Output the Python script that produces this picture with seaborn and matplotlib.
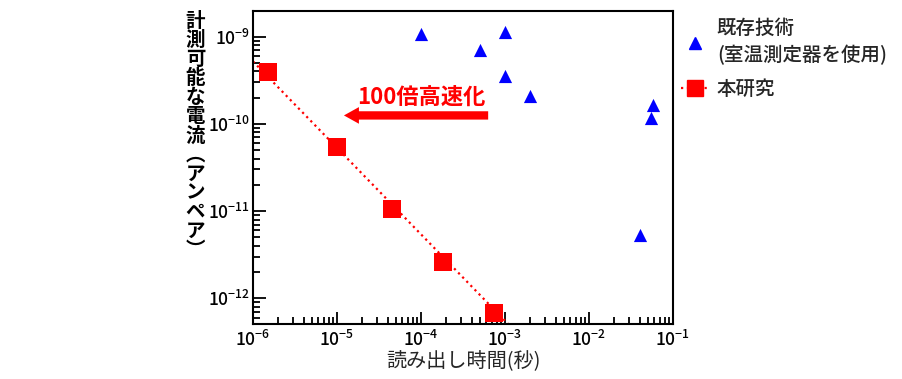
import numpy as np
import pandas as pd
import matplotlib
matplotlib.use("Agg")
import matplotlib.pyplot as plt
from matplotlib.lines import Line2D
from matplotlib.ticker import FixedLocator, LogLocator, NullFormatter
import seaborn as sns

# existing techniques (room-temperature instruments)
prior_time = [1.0e-4, 5.0e-4, 1.0e-3, 1.0e-3, 2.0e-3, 5.8e-2, 5.4e-2, 4.0e-2]
prior_current = [1.07e-9, 7.0e-10, 1.14e-9, 3.54e-10, 2.1e-10, 1.65e-10, 1.16e-10, 5.3e-12]

# this work
work_time = [1.51e-6, 1.01e-5, 4.5e-5, 1.81e-4, 7.3e-4]
work_current = [3.9e-10, 5.5e-11, 1.06e-11, 2.63e-12, 6.7e-13]

# dotted trend line
trend_time = [1.0e-6, 1.09e-3]
trend_current = [5.2e-10, 5.07e-13]

x_major = [1e-6, 1e-5, 1e-4, 1e-3, 1e-2, 1e-1]
y_major = [1e-12, 1e-11, 1e-10, 1e-9]

sns.set_theme(style="ticks")
plt.rcParams['font.family'] = ['Noto Sans CJK JP', 'DejaVu Sans']
plt.rcParams['font.weight'] = 'medium'
plt.rcParams['axes.unicode_minus'] = True

fig = plt.figure(figsize=(9.03, 3.79), dpi=100)
ax = fig.add_axes([0.2802, 0.1451, 0.4651, 0.8259])

red = '#ff0000'
blue = '#0000ff'

sns.lineplot(x=trend_time, y=trend_current, ax=ax, color=red, linestyle=':',
             linewidth=1.6, legend=False)
sns.scatterplot(x=work_time, y=work_current, ax=ax, marker='s', s=150,
                color=red, edgecolor=red, linewidth=0, zorder=3)
sns.scatterplot(x=prior_time, y=prior_current, ax=ax, marker='^', s=90,
                color=blue, edgecolor=blue, linewidth=0, zorder=3)

ax.set_xscale('log')
ax.set_yscale('log')
ax.set_xlim(1e-6, 1e-1)
ax.set_ylim(5.07e-13, 1.97e-9)

ax.xaxis.set_major_locator(FixedLocator(x_major))
ax.yaxis.set_major_locator(FixedLocator(y_major))
ax.xaxis.set_minor_locator(LogLocator(base=10, subs=np.arange(2, 10), numticks=20))
ax.yaxis.set_minor_locator(LogLocator(base=10, subs=np.arange(2, 10), numticks=20))
ax.xaxis.set_minor_formatter(NullFormatter())
ax.yaxis.set_minor_formatter(NullFormatter())

ax.tick_params(which='both', direction='in', top=False, right=False,
               colors='black', width=1.3)
ax.tick_params(which='major', length=9, labelsize=12.5)
ax.tick_params(axis='y', which='major', pad=2)
ax.tick_params(axis='x', which='major', pad=4)
ax.tick_params(which='minor', length=5)
for sp in ax.spines.values():
    sp.set_visible(True)
    sp.set_linewidth(1.5)
    sp.set_color('black')

ax.set_xlabel('読み出し時間(秒)', fontsize=14.5, labelpad=1)

# vertical y-axis label, characters upright
ylab = '計測可能な電流︵アンペア︶'
fig.text(0.2165, 0.968, '\n'.join(ylab), fontsize=14, fontweight='bold',
         ha='center', va='top', linespacing=1.0, color='black')

# 100x speed-up annotation
ax.annotate('', xy=(1.12e-5, 1.25e-10), xytext=(6.8e-4, 1.25e-10),
            arrowprops=dict(arrowstyle='simple,head_length=0.9,head_width=1.0,tail_width=0.5',
                            color=red, lw=0))
ax.text(1.0e-4, 2.0e-10, '100倍高速化', color=red, fontsize=16,
        fontweight='bold', ha='center', va='center')

handles = [
    Line2D([], [], marker='^', color=blue, linestyle='none', markersize=9),
    Line2D([], [], marker='s', color=red, linestyle=':', linewidth=1.6, markersize=11),
]
labels = ['既存技術\n(室温測定器を使用)', '本研究']
leg = ax.legend(handles, labels, loc='upper left', bbox_to_anchor=(1.0, 1.0),
                frameon=False, fontsize=14, handlelength=1.45, handletextpad=0.4,
                labelspacing=0.75, borderaxespad=0)
for t in leg.get_texts():
    t.set_linespacing(1.45)

fig.savefig('out.png', dpi=100)
